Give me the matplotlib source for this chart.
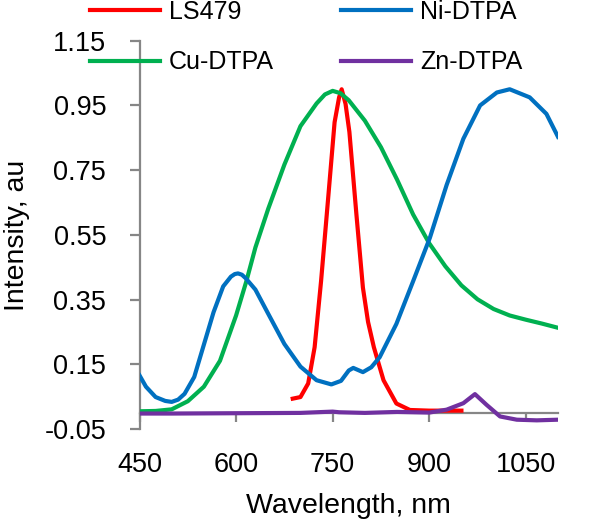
#!/usr/bin/env python3

import matplotlib
matplotlib.use('Agg')
import matplotlib.pyplot as plt


# spectra (wavelength in nm, intensity in au)

ls479_x = [688, 700, 712, 722, 732, 743, 753, 760, 764, 770, 776, 787, 797, 805, 814, 829, 849, 870, 900, 950]
ls479_y = [0.044, 0.049, 0.091, 0.203, 0.407, 0.663, 0.898, 0.975, 1.0, 0.955, 0.868, 0.611, 0.387, 0.281, 0.203, 0.101, 0.029, 0.009, 0.007, 0.007]

ni_x = [450, 460, 475, 490, 500, 510, 520, 535, 550, 565, 580, 592, 598, 603, 609, 615, 630, 650, 675, 700, 725, 748,
        763, 775, 782, 797, 810, 823, 849, 875, 901, 927, 953, 979, 1005, 1025, 1056, 1082, 1100]
ni_y = [0.116, 0.081, 0.049, 0.037, 0.034, 0.041, 0.059, 0.111, 0.211, 0.311, 0.391, 0.421, 0.429, 0.431, 0.427, 0.416, 0.381,
        0.306, 0.213, 0.143, 0.101, 0.088, 0.099, 0.131, 0.139, 0.126, 0.141, 0.172, 0.275, 0.407, 0.541, 0.704,
        0.847, 0.95, 0.99, 1.0, 0.975, 0.924, 0.853]

cu_x = [450, 475, 500, 525, 550, 575, 600, 616, 630, 650, 675, 700, 725, 738, 750, 762, 775, 800, 825, 850, 875, 900,
        925, 950, 975, 1000, 1025, 1050, 1075, 1100]
cu_y = [0.005, 0.006, 0.011, 0.036, 0.081, 0.161, 0.301, 0.407, 0.511, 0.631, 0.767, 0.886, 0.956, 0.984, 0.995, 0.988, 0.966,
        0.903, 0.821, 0.721, 0.613, 0.524, 0.453, 0.394, 0.351, 0.321, 0.301, 0.288, 0.276, 0.263]

zn_x = [450, 500, 600, 700, 750, 760, 800, 850, 900, 927, 953, 971, 989, 1010, 1036, 1067, 1100]
zn_y = [-0.002, -0.002, -0.001, 0.0, 0.004, 0.002, 0.0, 0.003, 0.001, 0.01, 0.03, 0.058, 0.025, -0.011,
        -0.021, -0.023, -0.021]

x_ticks = [450, 600, 750, 900, 1050]
y_ticks = [-0.05, 0.15, 0.35, 0.55, 0.75, 0.95, 1.15]

gray = '#868686'
plt.rcParams['font.family'] = ['Liberation Sans', 'DejaVu Sans']

fig = plt.figure(figsize=(6, 5.22), dpi=100)
ax = fig.add_axes([0.2325, 0.178, 0.6975, 0.744])

ax.plot(ls479_x, ls479_y, color='#FF0000', lw=3, label='LS479')
ax.plot(cu_x, cu_y, color='#00B050', lw=3, label='Cu-DTPA')
ax.plot(ni_x, ni_y, color='#0070C0', lw=3, label='Ni-DTPA')
ax.plot(zn_x, zn_y, color='#7030A0', lw=3, label='Zn-DTPA')

ax.set_xlim(450, 1100)
ax.set_ylim(-0.05, 1.15)
ax.set_xticks(x_ticks)
ax.set_yticks(y_ticks)
ax.set_yticklabels(['%.2f' % v for v in y_ticks])

# excel-like axes: x axis crosses at zero, labels stay low
for side in ['top', 'right']:
    ax.spines[side].set_visible(False)
ax.spines['bottom'].set_position(('data', 0))
for side in ['left', 'bottom']:
    ax.spines[side].set_color(gray)
    ax.spines[side].set_linewidth(1.6)
    ax.spines[side].set_zorder(0.5)
ax.tick_params(axis='x', direction='out', length=6.5, width=1.6, color=gray, pad=22, labelsize=19.5)
ax.tick_params(axis='y', direction='out', length=7, width=1.6, color=gray, pad=17, labelsize=19.5)

ax.set_xlabel('Wavelength, nm', fontsize=20.5)
ax.set_ylabel('Intensity, au', fontsize=20.5)
ax.xaxis.set_label_coords(0.5, -0.165)
ax.yaxis.set_label_coords(-0.262, 0.5)

ax.legend(loc='upper left', bbox_to_anchor=(0.15, 1.0), bbox_transform=fig.transFigure, ncol=2,
          frameon=False, fontsize=18, handlelength=2.8, handletextpad=0.35, columnspacing=2.7,
          labelspacing=1.05, borderpad=0, borderaxespad=0)

plt.savefig('out.png', dpi=100)
